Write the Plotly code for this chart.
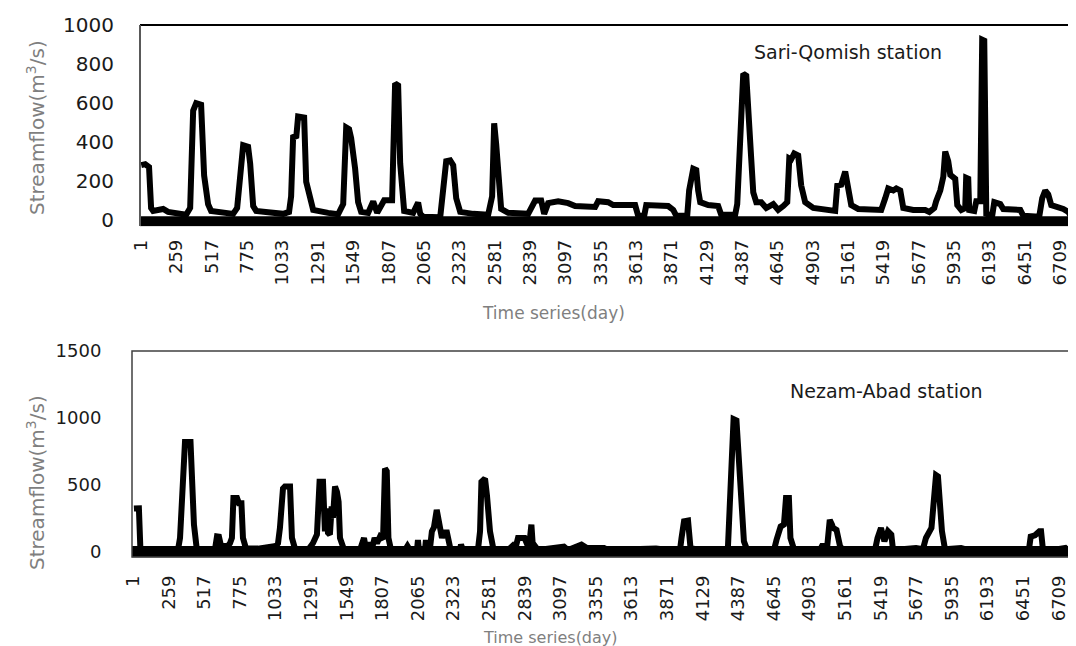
import plotly.graph_objects as go

# ---- data ----
tick_days = [1, 259, 517, 775, 1033, 1291, 1549, 1807, 2065, 2323, 2581, 2839, 3097,
             3355, 3613, 3871, 4129, 4387, 4645, 4903, 5161, 5419, 5677, 5935, 6193,
             6451, 6709]
tick_labels = ["1", "259", "517", "775", "1033", "1291", "1549", "1807", "2065", "2323",
               "2581", "2839", "3097", "3355", "3613", "3871", "4129", "4387", "4645",
               "4903", "5161", "5419", "5677", "5935", "6193", "6451", "6709"]

sari_day = [1, 30, 58, 73, 88, 161, 197, 270, 329, 358, 380, 402, 438, 460, 489, 511, 599,
            672, 701, 730, 745, 781, 796, 818, 840, 927, 1037, 1080, 1095, 1110, 1132, 1146,
            1190, 1205, 1234, 1256, 1365, 1438, 1475, 1497, 1518, 1533, 1562, 1584, 1606,
            1657, 1694, 1723, 1774, 1832, 1854, 1876, 1891, 1920, 1986, 2022, 2037, 2059,
            2183, 2205, 2227, 2256, 2278, 2300, 2329, 2424, 2533, 2562, 2577, 2592, 2613,
            2628, 2679, 2825, 2876, 2920, 2942, 2971, 3044, 3117, 3168, 3314, 3336, 3409,
            3446, 3606, 3628, 3672, 3687, 3847, 3884, 3906, 3986, 4000, 4030, 4052, 4066,
            4081, 4139, 4212, 4234, 4336, 4351, 4373, 4395, 4417, 4431, 4453, 4468, 4490,
            4526, 4563, 4614, 4650, 4687, 4716, 4731, 4745, 4767, 4796, 4818, 4847, 4906,
            4979, 5066, 5081, 5110, 5139, 5161, 5183, 5234, 5307, 5402, 5431, 5453, 5490,
            5512, 5541, 5563, 5636, 5723, 5753, 5789, 5803, 5833, 5855, 5869, 5891, 5906,
            5942, 5957, 5986, 6015, 6022, 6037, 6044, 6081, 6096, 6125, 6139, 6154, 6169,
            6212, 6227, 6271, 6293, 6417, 6439, 6555, 6577, 6599, 6621, 6643, 6731, 6767,
            6789, 6884]
sari_flow = [280, 285, 270, 60, 45, 55, 40, 30, 25, 60, 560, 598, 590, 227, 80, 45, 35,
             30, 60, 300, 383, 375, 289, 70, 45, 38, 30, 40, 120, 434, 420, 530,
             525, 195, 90, 50, 35, 28, 80, 474, 465, 420, 263, 90, 40,
             35, 93, 35, 100, 100, 700, 690, 290, 45, 35, 88, 30, 15,
             12, 134, 300, 305, 280, 110, 40, 30, 25, 120, 495, 385, 170,
             55, 35, 30, 98, 98, 30, 85, 95, 85, 70, 65, 95, 90,
             75, 75, 20, 20, 75, 70, 50, 20, 20, 150, 262, 255, 150,
             90, 75, 70, 25, 25, 80, 350, 750, 740, 505, 315, 140, 90,
             90, 60, 80, 50, 70, 90, 315, 310, 340, 330, 175, 90, 60,
             50, 45, 175, 180, 247, 160, 75, 55, 50, 50, 110, 160, 150,
             160, 150, 60, 50, 50, 40, 60, 95, 150, 220, 350, 300, 230,
             210, 75, 50, 60, 215, 210, 50, 45, 95, 95, 925, 920, 30,
             20, 90, 80, 55, 50, 20, 15, 110, 150, 130, 75, 55, 40,
             15, 10]

nezam_day = [7, 43, 54, 152, 181, 326, 341, 367, 377, 417, 428, 442, 462, 543, 594, 609,
             623, 638, 688, 703, 717, 728, 754, 768, 786, 797, 819, 906, 993, 1036, 1051,
             1065, 1087, 1101, 1138, 1152, 1174, 1268, 1304, 1333, 1352, 1377, 1391, 1402,
             1413, 1427, 1440, 1449, 1464, 1478, 1490, 1500, 1527, 1645, 1674, 1688, 1714,
             1732, 1751, 1768, 1790, 1812, 1826, 1839, 1851, 1869, 1971, 1989, 2007, 2058,
             2065, 2072, 2116, 2123, 2130, 2152, 2166, 2181, 2201, 2225, 2239, 2251, 2275,
             2301, 2369, 2377, 2391, 2500, 2515, 2525, 2551, 2565, 2587, 2612, 2717, 2750,
             2768, 2790, 2837, 2869, 2887, 2898, 2913, 2935, 3123, 3152, 3250, 3290, 3413,
             3442, 3616, 3692, 3790, 3877, 3964, 3975, 3993, 4022, 4040, 4094, 4297, 4311,
             4333, 4352, 4373, 4391, 4406, 4427, 4449, 4645, 4663, 4693, 4717, 4732, 4753,
             4764, 4790, 4978, 4993, 5014, 5028, 5043, 5049, 5065, 5073, 5098, 5123, 5145,
             5377, 5395, 5420, 5445, 5471, 5495, 5507, 5572, 5674, 5724, 5746, 5786, 5804,
             5819, 5833, 5862, 5884, 6000, 6050, 6492, 6505, 6517, 6536, 6568, 6580, 6594,
             6666, 6757, 6775, 6797, 6819, 6848, 6870, 6884]
nezam_flow = [320, 322, 12, 15, 8, 10, 100, 790, 818, 818, 595, 200, 20, 10, 12, 112,
              110, 40, 40, 60, 100, 400, 400, 360, 360, 100, 20, 20, 40, 40, 60,
              175, 470, 485, 485, 100, 20, 10, 60, 125, 520, 520, 150, 320,
              140, 125, 335, 250, 485, 445, 370, 100, 20, 10, 100, 20, 60,
              20, 100, 60, 110, 90, 620, 600, 100, 15, 10, 40, 10, 10,
              85, 10, 10, 85, 10, 20, 150, 180, 310, 175, 100, 140, 140,
              15, 10, 50, 10, 12, 150, 520, 545, 420, 150, 15, 10, 40,
              10, 100, 100, 20, 200, 30, 40, 10, 35, 10, 50, 25, 25,
              10, 20, 20, 20, 10, 10, 100, 225, 230, 25, 10, 10, 25,
              445, 990, 980, 670, 350, 75, 15, 10, 85, 185, 200, 400, 400,
              100, 15, 10, 40, 40, 10, 120, 235, 200, 175, 160, 40, 10,
              10, 100, 175, 75, 150, 125, 15, 15, 25, 15, 100, 175, 350,
              570, 560, 150, 15, 25, 10, 10, 110, 110, 120, 150, 150, 10,
              10, 25, 10, 20, 75, 100, 150, 150]

W, H = 1076, 646


def px(v):
    return v / W


def py(v):
    return 1 - v / H


fig = go.Figure()
fig.add_trace(go.Scatter(x=sari_day, y=sari_flow, mode="lines",
                         line=dict(color="black", width=6),
                         xaxis="x", yaxis="y", hoverinfo="skip"))
fig.add_trace(go.Scatter(x=nezam_day, y=nezam_flow, mode="lines",
                         line=dict(color="black", width=6),
                         xaxis="x2", yaxis="y2", hoverinfo="skip"))

tickfont_x = dict(family="DejaVu Sans", size=18, color="#1a1a1a")
gray = "#7f7f7f"

fig.update_layout(
    template="none",
    width=W, height=H,
    margin=dict(l=0, r=0, t=0, b=0, pad=0),
    paper_bgcolor="white", plot_bgcolor="white",
    showlegend=False,
    xaxis=dict(domain=[px(132), 1], range=[-8, 6882], anchor="y", automargin=False,
               tickmode="array", tickvals=tick_days, ticktext=tick_labels,
               tickangle=-90, showgrid=False, zeroline=False, showline=False,
               ticks="outside", ticklen=5, tickcolor="rgba(0,0,0,0)",
               tickfont=tickfont_x),
    yaxis=dict(domain=[py(218.5), py(17)], range=[-35, 1000], anchor="x", automargin=False,
               tickmode="array", tickvals=[0, 200, 400, 600, 800, 1000],
               showgrid=False, zeroline=False, showline=False,
               ticks="outside", ticklen=21, tickcolor="rgba(0,0,0,0)",
               tickfont=dict(family="DejaVu Sans", size=20, color="#1a1a1a")),
    xaxis2=dict(domain=[px(124), px(1075)], range=[-7, 6884], anchor="y2", automargin=False,
                tickmode="array", tickvals=tick_days, ticktext=tick_labels,
                tickangle=-90, showgrid=False, zeroline=False, showline=False,
                ticks="outside", ticklen=10, tickcolor="rgba(0,0,0,0)",
                tickfont=tickfont_x),
    yaxis2=dict(domain=[py(549.3), py(343)], range=[-45, 1500], anchor="x2", automargin=False,
                tickmode="array", tickvals=[0, 500, 1000, 1500],
                showgrid=False, zeroline=False, showline=False,
                ticks="outside", ticklen=26, tickcolor="rgba(0,0,0,0)",
                tickfont=dict(family="DejaVu Sans", size=18, color="#1a1a1a")),
)

shapes = [
    # thick zero bands
    dict(type="line", xref="x", yref="y", x0=-8, x1=6882, y0=-8, y1=-8,
         line=dict(color="black", width=10), layer="above"),
    dict(type="line", xref="x2", yref="y2", x0=-7, x1=6884, y0=-5, y1=-5,
         line=dict(color="black", width=12), layer="above"),
    # top chart frame (top + left)
    dict(type="line", xref="paper", yref="paper", x0=px(132), x1=1, y0=py(17), y1=py(17),
         line=dict(color="black", width=2)),
    dict(type="line", xref="paper", yref="paper", x0=px(132), x1=px(132), y0=py(17), y1=py(218),
         line=dict(color="#595959", width=2)),
    # bottom chart box
    dict(type="rect", xref="paper", yref="paper", x0=px(124), x1=px(1075), y0=py(549), y1=py(343),
         line=dict(color="#404040", width=1.5)),
]
fig.update_layout(shapes=shapes)

ann_font = dict(family="DejaVu Sans", size=19, color="#1a1a1a")
annotations = [
    dict(text="Sari-Qomish station", x=px(840), y=py(44), xref="paper", yref="paper",
         showarrow=False, font=ann_font, xanchor="center", yanchor="middle"),
    dict(text="Nezam-Abad station", x=px(878), y=py(383), xref="paper", yref="paper",
         showarrow=False, font=ann_font, xanchor="center", yanchor="middle"),
    dict(text="Streamflow(m<sup>3</sup>/s)", x=px(28), y=py(120), xref="paper", yref="paper",
         showarrow=False, textangle=-90, font=dict(family="DejaVu Sans", size=20, color=gray),
         xanchor="center", yanchor="middle"),
    dict(text="Streamflow(m<sup>3</sup>/s)", x=px(28), y=py(475), xref="paper", yref="paper",
         showarrow=False, textangle=-90, font=dict(family="DejaVu Sans", size=20, color=gray),
         xanchor="center", yanchor="middle"),
    dict(text="Time series(day)", x=px(545), y=py(305), xref="paper", yref="paper",
         showarrow=False, font=dict(family="DejaVu Sans", size=17, color=gray),
         xanchor="center", yanchor="middle"),
    dict(text="Time series(day)", x=px(542), y=py(629), xref="paper", yref="paper",
         showarrow=False, font=dict(family="DejaVu Sans", size=16, color=gray),
         xanchor="center", yanchor="middle"),
]
fig.update_layout(annotations=annotations)

fig.write_html("out.html")
